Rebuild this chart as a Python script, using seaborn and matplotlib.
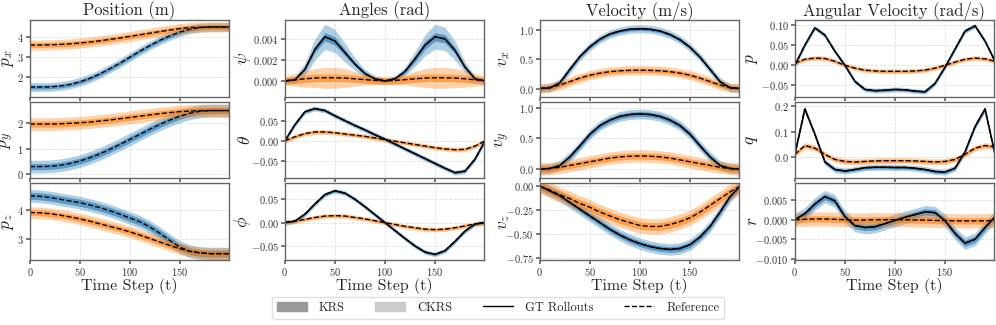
import numpy as np
import matplotlib
matplotlib.use('Agg')
import matplotlib.pyplot as plt
import seaborn as sns
from matplotlib.patches import Patch
from matplotlib.lines import Line2D
from matplotlib.ticker import FuncFormatter

sns.set_theme(style='whitegrid', rc={
    'axes.edgecolor': '0.4', 'axes.linewidth': 1.0,
    'grid.linestyle': '--', 'grid.color': '0.88', 'grid.linewidth': 0.6,
    'xtick.bottom': True, 'ytick.left': True,
    'xtick.major.size': 3, 'ytick.major.size': 3,
    'xtick.color': '0.4', 'ytick.color': '0.4',
    'xtick.labelcolor': '0.2', 'ytick.labelcolor': '0.2',
})
plt.rcParams['font.family'] = ['cmr10', 'DejaVu Serif']
plt.rcParams['mathtext.fontset'] = 'cm'
plt.rcParams['axes.formatter.use_mathtext'] = True

# time steps
t = list(range(0, 201, 10))

# position (m)
px_blue = [1.5, 1.5, 1.51, 1.55, 1.63, 1.76, 1.94, 2.16, 2.42, 2.7, 3.0, 3.3, 3.58, 3.84, 4.06, 4.25, 4.39, 4.47, 4.5, 4.5, 4.5]
px_orange = [3.6, 3.6, 3.61, 3.63, 3.66, 3.7, 3.75, 3.81, 3.88, 3.95, 4.03, 4.11, 4.19, 4.27, 4.35, 4.42, 4.47, 4.49, 4.5, 4.5, 4.5]
py_blue = [0.3, 0.3, 0.31, 0.35, 0.42, 0.52, 0.65, 0.8, 0.98, 1.17, 1.37, 1.57, 1.77, 1.96, 2.13, 2.28, 2.4, 2.47, 2.5, 2.5, 2.5]
py_orange = [1.97, 1.97, 1.97, 1.98, 2.0, 2.02, 2.05, 2.09, 2.13, 2.18, 2.23, 2.28, 2.33, 2.38, 2.42, 2.46, 2.48, 2.5, 2.5, 2.5, 2.5]
pz_blue = [4.5, 4.48, 4.44, 4.38, 4.32, 4.26, 4.18, 4.09, 3.98, 3.86, 3.73, 3.6, 3.42, 3.2, 2.95, 2.72, 2.58, 2.52, 2.5, 2.5, 2.5]
pz_orange = [3.92, 3.91, 3.88, 3.83, 3.77, 3.7, 3.62, 3.53, 3.44, 3.35, 3.25, 3.14, 3.02, 2.9, 2.78, 2.67, 2.58, 2.53, 2.5, 2.5, 2.5]

# angles (rad)
psi_blue = [0.0, 0.0001, 0.0011, 0.003, 0.0042, 0.0038, 0.0027, 0.0016, 0.0007, 0.0002, 0.0, 0.0002, 0.0009, 0.0021, 0.0034, 0.0042, 0.004, 0.0029, 0.0013, 0.0002, 0.0]
psi_orange = [0.0, 0.0001, 0.0002, 0.00027, 0.0003, 0.0003, 0.00027, 0.0002, 0.00012, 0.00005, 0.0, 0.00005, 0.00012, 0.0002, 0.00027, 0.0003, 0.0003, 0.00027, 0.0002, 0.0001, 0.0]
theta_blue = [0.0, 0.04, 0.072, 0.08, 0.075, 0.062, 0.05, 0.038, 0.027, 0.015, 0.004, -0.008, -0.02, -0.032, -0.044, -0.056, -0.068, -0.079, -0.075, -0.045, 0.0]
theta_orange = [0.0, 0.01, 0.018, 0.022, 0.022, 0.02, 0.017, 0.014, 0.011, 0.007, 0.003, -0.001, -0.005, -0.009, -0.013, -0.017, -0.02, -0.022, -0.021, -0.013, 0.0]
phi_blue = [0.0, 0.003, 0.018, 0.04, 0.06, 0.068, 0.063, 0.05, 0.034, 0.017, 0.0, -0.017, -0.034, -0.05, -0.063, -0.068, -0.06, -0.04, -0.018, -0.003, 0.0]
phi_orange = [0.0, 0.003, 0.007, 0.011, 0.014, 0.015, 0.014, 0.011, 0.008, 0.004, 0.0, -0.004, -0.008, -0.011, -0.014, -0.015, -0.014, -0.011, -0.007, -0.003, 0.0]

# velocity (m/s)
vx_blue = [0.0, 0.01, 0.1, 0.33, 0.55, 0.72, 0.85, 0.94, 0.99, 1.02, 1.03, 1.02, 0.99, 0.93, 0.84, 0.71, 0.54, 0.33, 0.12, 0.01, 0.0]
vx_orange = [0.0, 0.02, 0.06, 0.12, 0.18, 0.23, 0.265, 0.29, 0.305, 0.313, 0.315, 0.313, 0.305, 0.29, 0.265, 0.23, 0.18, 0.12, 0.06, 0.02, 0.0]
vy_blue = [0.0, 0.01, 0.06, 0.2, 0.38, 0.57, 0.71, 0.8, 0.86, 0.89, 0.9, 0.89, 0.86, 0.8, 0.71, 0.57, 0.38, 0.2, 0.06, 0.01, 0.0]
vy_orange = [0.0, 0.01, 0.03, 0.06, 0.09, 0.12, 0.15, 0.18, 0.2, 0.21, 0.215, 0.21, 0.2, 0.18, 0.15, 0.12, 0.09, 0.06, 0.03, 0.01, 0.0]
vz_blue = [0.0, -0.05, -0.1, -0.17, -0.24, -0.31, -0.38, -0.45, -0.51, -0.56, -0.6, -0.63, -0.65, -0.66, -0.65, -0.61, -0.53, -0.42, -0.27, -0.11, 0.0]
vz_orange = [0.0, -0.04, -0.09, -0.13, -0.18, -0.22, -0.27, -0.31, -0.35, -0.38, -0.41, -0.42, -0.42, -0.4, -0.37, -0.33, -0.27, -0.2, -0.13, -0.06, 0.0]

# angular velocity (rad/s)
p_blue = [0.0, 0.05, 0.093, 0.075, 0.035, 0.0, -0.04, -0.06, -0.063, -0.062, -0.06, -0.061, -0.064, -0.066, -0.045, -0.005, 0.04, 0.085, 0.098, 0.06, 0.01]
p_orange = [0.005, 0.015, 0.018, 0.017, 0.01, 0.0, -0.007, -0.012, -0.014, -0.015, -0.015, -0.015, -0.014, -0.012, -0.007, 0.0, 0.008, 0.015, 0.018, 0.016, 0.01]
q_blue = [0.01, 0.19, 0.09, -0.02, -0.05, -0.056, -0.05, -0.043, -0.041, -0.041, -0.042, -0.042, -0.045, -0.05, -0.058, -0.06, -0.045, 0.02, 0.12, 0.19, 0.01]
q_orange = [0.01, 0.045, 0.035, 0.01, -0.01, -0.018, -0.02, -0.018, -0.016, -0.015, -0.015, -0.015, -0.016, -0.018, -0.02, -0.018, -0.01, 0.01, 0.035, 0.045, 0.04]
r_blue = [0.0, 0.0015, 0.004, 0.0059, 0.0048, 0.0008, -0.0015, -0.002, -0.0018, -0.001, -0.0002, 0.0006, 0.0013, 0.002, 0.0018, -0.0002, -0.0035, -0.006, -0.005, -0.002, 0.0007]
r_orange = [0.0, 0.0001, 0.0002, 0.0002, 0.0001, 0.0, -0.0001, -0.0001, 0.0, 0.0, 0.0, 0.0, -0.0001, -0.0001, -0.0002, -0.0002, -0.0003, -0.0003, -0.0003, -0.0003, -0.0002]

# band half-widths (KRS narrow, CKRS wide)
psi_blue_krs = [0.0001, 0.0001, 0.0002, 0.0003, 0.0004, 0.0004, 0.0003, 0.0002, 0.0002, 0.0001, 0.0001, 0.0001, 0.0002, 0.0003, 0.0004, 0.0004, 0.0004, 0.0003, 0.0002, 0.0001, 0.0001]
psi_blue_ckrs = [0.0002, 0.0003, 0.0006, 0.001, 0.0012, 0.0011, 0.0009, 0.0006, 0.0004, 0.0003, 0.0002, 0.0003, 0.0004, 0.0007, 0.001, 0.0012, 0.0011, 0.0009, 0.0005, 0.0003, 0.0002]
psi_orange_ckrs = [0.0004, 0.0006, 0.0008, 0.0009, 0.001, 0.001, 0.0009, 0.0007, 0.0005, 0.0004, 0.0003, 0.0004, 0.0005, 0.0007, 0.0009, 0.001, 0.001, 0.0009, 0.0008, 0.0006, 0.0004]

titles = ['Position (m)', 'Angles (rad)', 'Velocity (m/s)', 'Angular Velocity (rad/s)']
ylabels = [[r'$p_x$', r'$p_y$', r'$p_z$'],
           [r'$\psi$', r'$\theta$', r'$\phi$'],
           [r'$v_x$', r'$v_y$', r'$v_z$'],
           [r'$p$', r'$q$', r'$r$']]
yticks = [[[2, 3, 4], [0, 1, 2], [3, 4]],
          [[0.0, 0.002, 0.004], [-0.05, 0.0, 0.05], [-0.05, 0.0, 0.05]],
          [[0.0, 0.5, 1.0], [0.0, 0.5, 1.0], [-0.75, -0.5, -0.25, 0.0]],
          [[-0.05, 0.0, 0.05, 0.10], [0.0, 0.1, 0.2], [-0.010, -0.005, 0.0, 0.005]]]
yfmt = [['%d', '%d', '%d'], ['%.3f', '%.2f', '%.2f'], ['%.1f', '%.1f', '%.2f'], ['%.2f', '%.1f', '%.3f']]
ylims = [[(1.02, 4.85), (-0.16, 2.85), (2.28, 4.93)],
         [(-0.0015, 0.0058), (-0.093, 0.097), (-0.080, 0.084)],
         [(-0.14, 1.18), (-0.15, 1.10), (-0.77, 0.03)],
         [(-0.078, 0.1125), (-0.085, 0.219), (-0.0103, 0.0093)]]
ylabel_x = [-0.068, -0.16, -0.14, -0.175]

# (blue, orange, blue_krs, blue_ckrs, orange_krs, orange_ckrs)
series = [
    [(px_blue, px_orange, 0.1, 0.22, 0.12, 0.25),
     (py_blue, py_orange, 0.12, 0.25, 0.12, 0.25),
     (pz_blue, pz_orange, 0.12, 0.22, 0.1, 0.2)],
    [(psi_blue, psi_orange, psi_blue_krs, psi_blue_ckrs, 0.00035, psi_orange_ckrs),
     (theta_blue, theta_orange, 0.003, 0.006, 0.003, 0.006),
     (phi_blue, phi_orange, 0.0025, 0.005, 0.0025, 0.005)],
    [(vx_blue, vx_orange, 0.03, 0.07, 0.04, 0.08),
     (vy_blue, vy_orange, 0.04, 0.08, 0.05, 0.1),
     (vz_blue, vz_orange, 0.03, 0.06, 0.04, 0.08)],
    [(p_blue, p_orange, 0.003, 0.006, 0.003, 0.006),
     (q_blue, q_orange, 0.006, 0.012, 0.006, 0.012),
     (r_blue, r_orange, 0.0008, 0.0016, 0.0008, 0.0018)],
]

pal = sns.color_palette('tab10')
blue, orange = pal[0], pal[1]

fig, axes = plt.subplots(3, 4, figsize=(9.96, 3.25), dpi=100, sharex=True)
fig.subplots_adjust(left=0.03, right=0.998, top=0.9385, bottom=0.2, wspace=0.28, hspace=0.065)

tt = np.array(t)
for col in range(4):
    for row in range(3):
        ax = axes[row, col]
        b, o, bk, bc, ok, oc = series[col][row]
        for vals, krs, ckrs, c in [(b, bk, bc, blue), (o, ok, oc, orange)]:
            v = np.array(vals)
            ax.fill_between(tt, v - np.array(ckrs), v + np.array(ckrs), color=c, alpha=0.35, lw=0)
            ax.fill_between(tt, v - np.array(krs), v + np.array(krs), color=c, alpha=0.6, lw=0)
        if col > 0:
            sns.lineplot(x=t, y=b, ax=ax, color='black', lw=1.1)
        sns.lineplot(x=t, y=b, ax=ax, color='black', lw=1.0, linestyle='--')
        sns.lineplot(x=t, y=o, ax=ax, color='black', lw=1.0, linestyle='--')
        ax.set_xlim(0, 199)
        ax.set_ylim(*ylims[col][row])
        ax.set_xticks([0, 50, 100, 150])
        ax.set_yticks(yticks[col][row])
        f = yfmt[col][row]
        ax.yaxis.set_major_formatter(FuncFormatter(lambda v, _, f=f: r'$\mathdefault{%s}$' % (f % v)))
        ax.tick_params(labelsize=7.5, pad=1.5)
        ax.set_ylabel(ylabels[col][row], fontsize=12.5)
        ax.yaxis.set_label_coords(ylabel_x[col], 0.5)
        if row == 0:
            ax.set_title(titles[col], fontsize=12, pad=3)
        if row == 2:
            ax.set_xlabel('Time Step (t)', fontsize=11.5, labelpad=0)

handles = [Patch(color='#999999', label='KRS'),
           Patch(color='#cccccc', label='CKRS'),
           Line2D([], [], color='black', lw=1.0, label='GT Rollouts'),
           Line2D([], [], color='black', lw=1.0, ls='--', label='Reference')]
fig.legend(handles=handles, loc='lower center', bbox_to_anchor=(0.5, 0.0), ncol=4,
           fontsize=9, frameon=True, handlelength=2.4, columnspacing=2.4, handletextpad=1.0,
           edgecolor='0.85', fancybox=True, borderpad=0.4)

fig.savefig('out.png', dpi=100)
